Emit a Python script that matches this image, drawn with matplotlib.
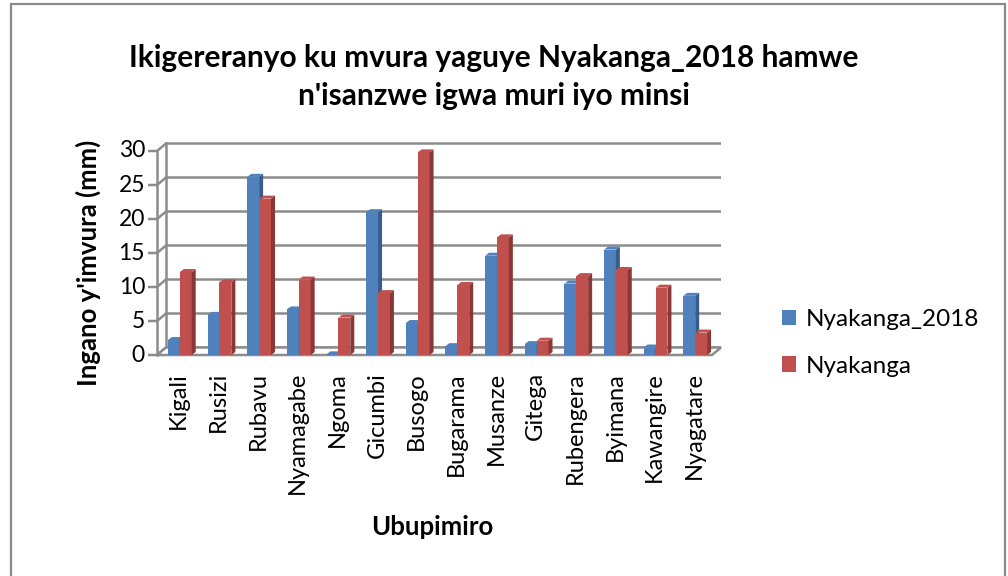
import numpy as np
import matplotlib
matplotlib.use('Agg')
import matplotlib.pyplot as plt
from matplotlib.patches import Polygon, Rectangle, Patch

plt.rcParams['font.family'] = ['Lato', 'DejaVu Sans']

# data
stations = ['Kigali', 'Rusizi', 'Rubavu', 'Nyamagabe', 'Ngoma', 'Gicumbi', 'Busogo',
            'Bugarama', 'Musanze', 'Gitega', 'Rubengera', 'Byimana', 'Kawangire', 'Nyagatare']
nyakanga_2018 = [2.2, 5.9, 26.2, 6.7, 0.1, 21.0, 4.7, 1.3, 14.6, 1.6, 10.5, 15.5, 1.1, 8.7]
nyakanga = [12.2, 10.7, 23.0, 11.1, 5.5, 9.1, 29.8, 10.3, 17.3, 2.1, 11.6, 12.5, 9.9, 3.3]
yticks = [0, 5, 10, 15, 20, 25, 30]

blue, blue_side = '#4F81BD', '#385D8A'
red, red_side = '#C0504D', '#8B3735'
grid_col = '#8C8C8C'

W, H = 1008, 576
fig = plt.figure(figsize=(W / 100, H / 100), dpi=100)

# outer border of the chart
fig.patches.append(Rectangle((11 / W, -0.01), 994 / W, 1 - 4 / H + 0.01, transform=fig.transFigure,
                             fill=False, edgecolor='#8A8A8A', linewidth=1.6))

# front plane of the 3d box
left, right, bottom, top = 157, 712, 355, 151
ax = fig.add_axes([left / W, 1 - bottom / H, (right - left) / W, (bottom - top) / H])
n = len(stations)
ax.set_xlim(-0.5, n - 0.5)
ax.set_ylim(0, 30)
ax.axis('off')

px_x = n / (right - left)      # data units per pixel
px_y = 30 / (bottom - top)
ox, oy = 9 * px_x, 7.5 * px_y  # depth of the box

# back wall gridlines and left wall diagonals
for v in yticks:
    ax.plot([-0.5 - 9 * px_x, -0.5, -0.5 + ox, n - 0.5 + ox], [v, v, v + oy, v + oy],
            color=grid_col, lw=1.8, clip_on=False, zorder=1, solid_capstyle='butt')
ax.plot([-0.5, -0.5], [0, 30], color=grid_col, lw=1.8, clip_on=False, zorder=1)
ax.plot([-0.5 + ox, -0.5 + ox], [oy, 30 + oy], color=grid_col, lw=1.8, clip_on=False, zorder=1)
# floor
ax.add_patch(Polygon([(-0.5, 0), (n - 0.5, 0), (n - 0.5 + ox, oy), (-0.5 + ox, oy)],
                     closed=True, facecolor='white', edgecolor=grid_col, lw=1.8, clip_on=False, zorder=1))

# 3d-looking bars
bw = 0.3
sx = 3 * px_x
bx, by = 4 * px_x, 3 * px_y
x = np.arange(n)


def bar3d(xl, v, face, side):
    ax.add_patch(Rectangle((xl, 0), bw, v, facecolor=face, edgecolor='none', clip_on=False, zorder=3))
    ax.add_patch(Polygon([(xl + bw, 0), (xl + bw + bx, by), (xl + bw + bx, v + by), (xl + bw, v)],
                         closed=True, facecolor=side, edgecolor='none', clip_on=False, zorder=3))
    ax.add_patch(Polygon([(xl, v), (xl + bx, v + by), (xl + bw + bx, v + by), (xl + bw, v)],
                         closed=True, facecolor=face, edgecolor='none', clip_on=False, zorder=3))


for i in range(n):
    bar3d(x[i] - bw + sx, nyakanga_2018[i], blue, blue_side)
    bar3d(x[i] + sx, nyakanga[i], red, red_side)

# tick labels
for v in yticks:
    ax.text(-0.5 - 12 * px_x, v, str(v), ha='right', va='center', fontsize=16.5)
for i, s in enumerate(stations):
    ax.text(x[i] + 2 * px_x, -17 * px_y, s, rotation=90, ha='center', va='top', fontsize=17)

fig.text(88 / W, 1 - 263 / H, "Ingano y'imvura (mm)", rotation=90, ha='center', va='center',
         fontsize=18.5, fontweight='bold')
fig.text(432 / W, 1 - 527 / H, 'Ubupimiro', ha='center', va='center', fontsize=18.5, fontweight='bold')
fig.text(494 / W, 1 - 77 / H, "Ikigereranyo ku mvura yaguye Nyakanga_2018 hamwe\nn'isanzwe igwa muri iyo minsi",
         ha='center', va='center', fontsize=21.5, fontweight='bold', linespacing=1.45)

handles = [Patch(facecolor=blue), Patch(facecolor=red)]
fig.legend(handles, ['Nyakanga_2018', 'Nyakanga'], loc='center left',
           bbox_to_anchor=(760 / W, 1 - 343 / H), frameon=False, fontsize=17.5,
           handlelength=0.6, handleheight=0.6, handletextpad=0.4, labelspacing=1.05)

fig.savefig('out.png', dpi=100)
